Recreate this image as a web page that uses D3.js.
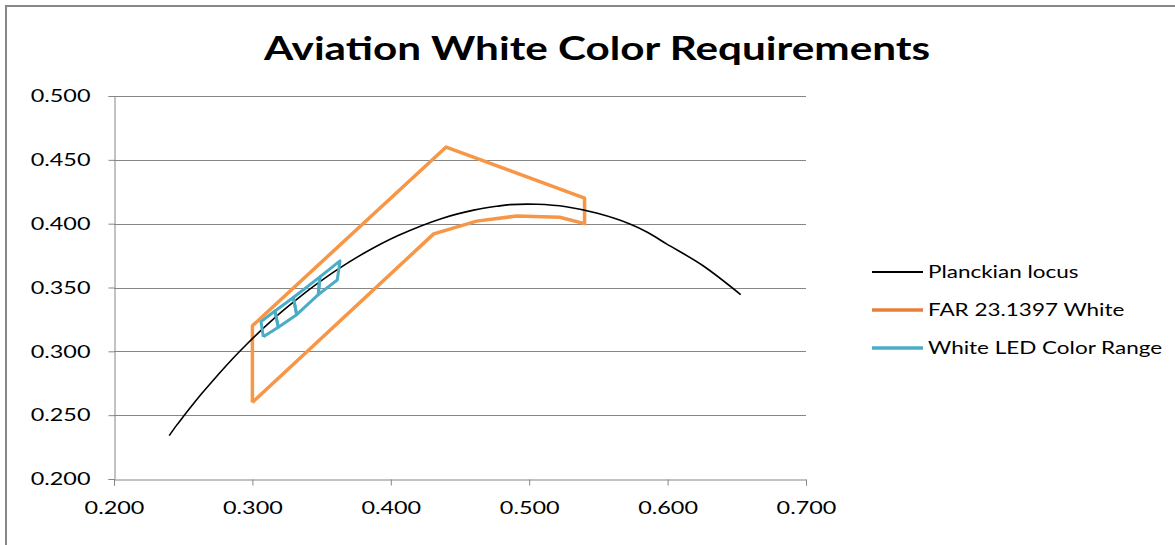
<!DOCTYPE html>
<html>
<head>
<meta charset="utf-8">
<script src="https://cdn.jsdelivr.net/npm/d3@7"></script>
<style>
  body { margin: 0; background: #fff; }
  svg { display: block; }
  text { font-family: Lato, 'Open Sans', sans-serif; fill: #000; }
</style>
</head>
<body>
<div id="chart"></div>
<script>
// Planckian locus (x, y chromaticity), hot to cold
var locusX = [0.2399, 0.2452, 0.2501, 0.2565, 0.2637, 0.2719, 0.2807, 0.2869, 0.2952, 0.3064, 0.3135, 0.3221, 0.3325, 0.3451, 0.3608, 0.3805, 0.4053, 0.4369, 0.4599, 0.4770, 0.4862, 0.5056, 0.5267, 0.5493, 0.5732, 0.5857, 0.5992, 0.6251, 0.6528];
var locusY = [0.2340, 0.2420, 0.2489, 0.2577, 0.2673, 0.2776, 0.2883, 0.2956, 0.3048, 0.3166, 0.3237, 0.3318, 0.3411, 0.3516, 0.3636, 0.3768, 0.3907, 0.4041, 0.4106, 0.4137, 0.4149, 0.4152, 0.4133, 0.4081, 0.3996, 0.3931, 0.3842, 0.3674, 0.3444];

// FAR 23.1397 aviation white boundary
var farX = [0.300, 0.300, 0.440, 0.540, 0.540, 0.522, 0.491, 0.462, 0.431, 0.300];
var farY = [0.260, 0.320, 0.460, 0.420, 0.400, 0.405, 0.406, 0.402, 0.392, 0.260];

// White LED quadrangles: top and bottom edge corners, left to right
var ledTopX = [0.3062, 0.3163, 0.3296, 0.3488, 0.3633];
var ledTopY = [0.3233, 0.3316, 0.3422, 0.3583, 0.3708];
var ledBotX = [0.3079, 0.3187, 0.3320, 0.3476, 0.3613];
var ledBotY = [0.3115, 0.3189, 0.3287, 0.3444, 0.3559];

var xTicks = [0.2, 0.3, 0.4, 0.5, 0.6, 0.7];
var yTicks = [0.2, 0.25, 0.3, 0.35, 0.4, 0.45, 0.5];

var seriesNames = ['Planckian locus', 'FAR 23.1397 White', 'White LED Color Range'];
var seriesColors = ['#000000', '#F79646', '#4BACC6'];
var legendColors = ['#000000', '#E4803A', '#4BACC6'];

var W = 1175, H = 545;
var SX = 1.3; // the source picture is stretched horizontally
var plot = { left: 114, right: 806, top: 96, bottom: 479 };

var svg = d3.select('#chart').append('svg').attr('width', W).attr('height', H);

// outer chart frame
svg.append('rect').attr('x', 6).attr('y', 6).attr('width', W + 20).attr('height', H + 20)
  .attr('fill', '#fff').attr('stroke', '#888').attr('stroke-width', 2);

var x = d3.scaleLinear().domain([0.2, 0.7]).range([plot.left, plot.right]);
var y = d3.scaleLinear().domain([0.2, 0.5]).range([plot.bottom, plot.top]);

function stretch(sel) {
  sel.attr('transform', 'scale(' + SX + ',1)');
}

// title
svg.append('g').attr('transform', 'translate(597,60)')
  .append('text').attr('text-anchor', 'middle').attr('font-size', 32.5).attr('font-weight', 'bold')
  .text('Aviation White Color Requirements').call(stretch);

// gridlines
svg.append('g').selectAll('line').data(yTicks.slice(1)).enter().append('line')
  .attr('x1', plot.left).attr('x2', plot.right)
  .attr('y1', function (d) { return Math.round(y(d)) + 0.5; })
  .attr('y2', function (d) { return Math.round(y(d)) + 0.5; })
  .attr('stroke', '#868686').attr('stroke-width', 1);

// axes
var gy = svg.append('g').attr('transform', 'translate(' + (plot.left + 0.5) + ',0)')
  .call(d3.axisLeft(y).tickValues(yTicks).tickSize(6).tickPadding(12.5).tickFormat(d3.format('.3f')));
var gx = svg.append('g').attr('transform', 'translate(0,' + (plot.bottom + 0.5) + ')')
  .call(d3.axisBottom(x).tickValues(xTicks).tickSize(6).tickPadding(16).tickFormat(d3.format('.3f')));
[gx, gy].forEach(function (g) {
  g.selectAll('.domain, .tick line').attr('stroke', '#868686');
  g.selectAll('text').attr('font-size', 18).attr('font-family', 'Lato, sans-serif').attr('fill', '#000').call(stretch);
});

// series
var line = d3.line().x(function (d) { return x(d[0]); }).y(function (d) { return y(d[1]); });
var locus = d3.zip(locusX, locusY);
var far = d3.zip(farX, farY);

svg.append('path').datum(far).attr('d', line).attr('fill', 'none')
  .attr('stroke', seriesColors[1]).attr('stroke-width', 3.5).attr('stroke-linejoin', 'round');

svg.append('path').datum(locus).attr('d', line.curve(d3.curveCatmullRom)).attr('fill', 'none')
  .attr('stroke', seriesColors[0]).attr('stroke-width', 1.6);
line.curve(d3.curveLinear);

var cells = d3.range(ledTopX.length - 1).map(function (i) {
  return [[ledBotX[i], ledBotY[i]], [ledTopX[i], ledTopY[i]], [ledTopX[i + 1], ledTopY[i + 1]],
          [ledBotX[i + 1], ledBotY[i + 1]], [ledBotX[i], ledBotY[i]]];
});
svg.append('g').selectAll('path').data(cells).enter().append('path')
  .attr('d', line).attr('fill', 'none')
  .attr('stroke', seriesColors[2]).attr('stroke-width', 3).attr('stroke-linejoin', 'round');

// legend
var legend = svg.append('g').attr('transform', 'translate(872,272)');
var items = legend.selectAll('g').data(seriesNames).enter().append('g')
  .attr('transform', function (d, i) { return 'translate(0,' + (i * 38) + ')'; });
items.append('line').attr('x1', 0).attr('x2', 51)
  .attr('stroke', function (d, i) { return legendColors[i]; })
  .attr('stroke-width', function (d, i) { return i === 0 ? 2 : 3.5; });
items.append('g').attr('transform', 'translate(56,6)')
  .append('text').attr('font-size', 17.3).text(function (d) { return d; }).call(stretch);
</script>
</body>
</html>
